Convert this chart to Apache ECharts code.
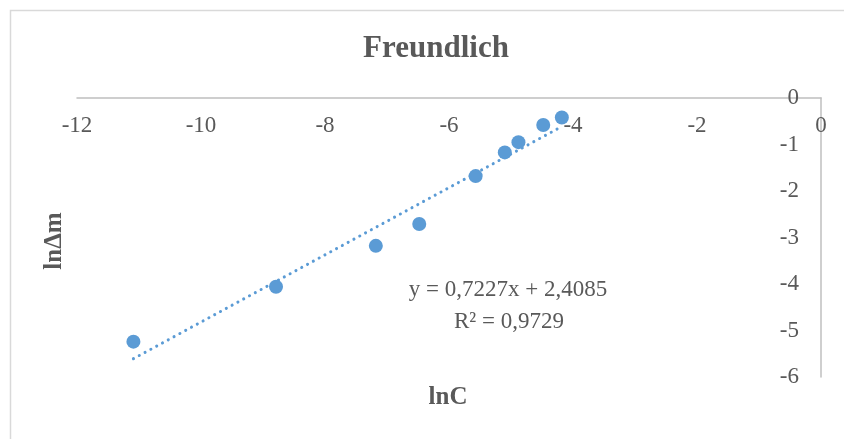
<!DOCTYPE html>
<html>
<head>
<meta charset="utf-8">
<script src="https://cdn.jsdelivr.net/npm/echarts@6/dist/echarts.min.js"></script>
<style>
html,body{margin:0;padding:0;background:#fff;}
#c{width:844px;height:439px;}
</style>
</head>
<body>
<div id="c"></div>
<script>
var titleText = 'Freundlich';
var xName = 'lnC';
var yName = 'lnΔm';
var lnC = [-11.09, -8.79, -7.18, -6.48, -5.57, -5.10, -4.88, -4.48, -4.18];
var lnDm = [-5.24, -4.06, -3.18, -2.71, -1.68, -1.17, -0.95, -0.58, -0.42];
var slope = 0.7227;
var intercept = 2.4085;
var equationLabel = 'y = 0,7227x + 2,4085';
var r2Label = 'R² = 0,9729';

var points = lnC.map(function (x, i) { return [x, lnDm[i]]; });
var xMin = Math.min.apply(null, lnC), xMax = Math.max.apply(null, lnC);
var trend = [[xMin, slope * xMin + intercept], [xMax, slope * xMax + intercept]];

var serif = '"Liberation Serif", "Times New Roman", serif';
var textColor = '#595959';
var chart = echarts.init(document.getElementById('c'));
chart.setOption({
  backgroundColor: '#fff',
  animation: false,
  title: {
    text: titleText,
    left: 431,
    top: 28,
    textAlign: 'center',
    textStyle: { fontFamily: serif, fontSize: 31, fontWeight: 'bold', color: textColor }
  },
  grid: { left: 77, right: 23, top: 98, bottom: 62 },
  xAxis: {
    type: 'value', min: -12, max: 0, interval: 2, position: 'top',
    axisLine: { lineStyle: { color: '#bfbfbf', width: 1.5 } },
    axisTick: { show: false },
    splitLine: { show: false },
    axisLabel: { inside: true, margin: 16, fontFamily: serif, fontSize: 23, color: textColor }
  },
  yAxis: {
    type: 'value', min: -6, max: 0, interval: 1, position: 'right',
    axisLine: { show: true, lineStyle: { color: '#bfbfbf', width: 1.5 } },
    axisTick: { show: false },
    splitLine: { show: false },
    axisLabel: { inside: true, margin: 22, fontFamily: serif, fontSize: 23, color: textColor }
  },
  series: [
    {
      type: 'line', data: trend, showSymbol: false, symbol: 'none', silent: true,
      lineStyle: { color: '#5b9bd5', width: 3, type: [0.1, 6.5], cap: 'round' },
      z: 2
    },
    {
      type: 'scatter', data: points, symbol: 'circle', symbolSize: 14,
      itemStyle: { color: '#5b9bd5', opacity: 1 },
      z: 3
    }
  ],
  graphic: [
    {
      type: 'rect', left: 8, top: 8, z: -10, silent: true,
      shape: { width: 900, height: 500 },
      style: { fill: 'none', stroke: '#d9d9d9', lineWidth: 1.5 }
    },
    {
      type: 'text', x: 508, y: 290,
      style: { text: equationLabel, font: '23px ' + serif, fill: textColor, align: 'center', verticalAlign: 'middle' }
    },
    {
      type: 'text', x: 509, y: 322,
      style: { text: r2Label, font: '23px ' + serif, fill: textColor, align: 'center', verticalAlign: 'middle' }
    },
    {
      type: 'text', x: 448, y: 398,
      style: { text: xName, font: 'bold 25px ' + serif, fill: textColor, align: 'center', verticalAlign: 'middle' }
    },
    {
      type: 'text', x: 55, y: 241, rotation: Math.PI / 2,
      style: { text: yName, font: 'bold 25px ' + serif, fill: textColor, align: 'center', verticalAlign: 'middle' }
    }
  ]
});
</script>
</body>
</html>
